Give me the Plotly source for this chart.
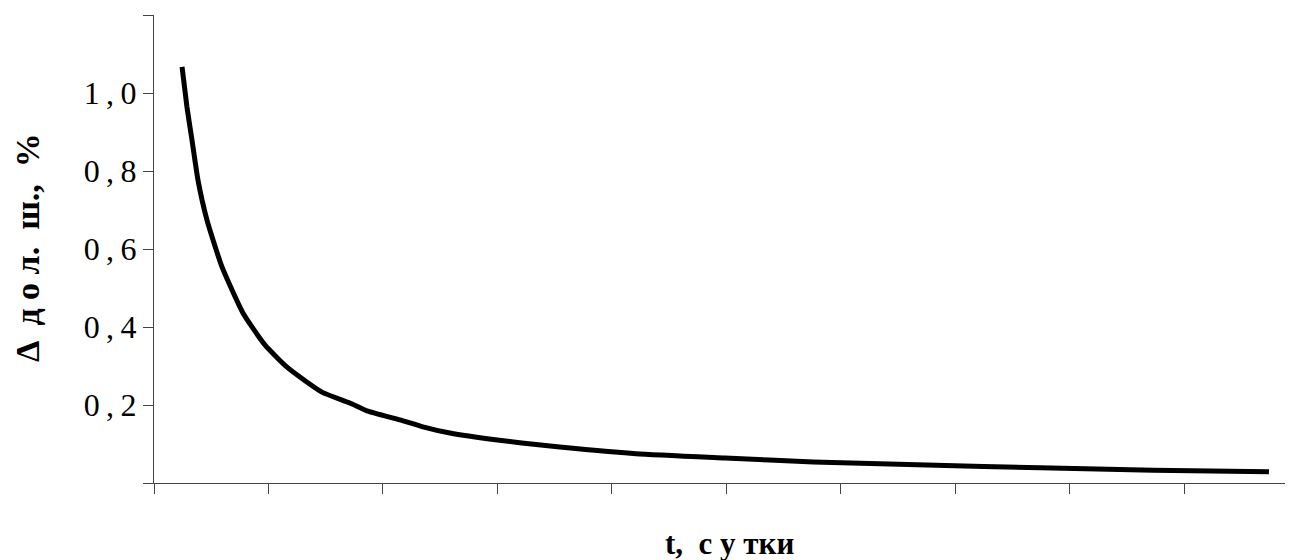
import plotly.graph_objects as go

# Data
t_days = [0.245, 0.288, 0.332, 0.384, 0.463, 0.594, 0.777, 0.969, 1.17, 1.467, 1.712, 1.86,
          2.148, 2.349, 2.585, 3.0, 3.42, 4.21, 4.99, 5.76, 6.75, 7.74, 8.73, 9.74]
delta = [1.067, 0.964, 0.879, 0.777, 0.674, 0.554, 0.436, 0.354, 0.295, 0.233, 0.205, 0.185,
         0.162, 0.144, 0.128, 0.110, 0.096, 0.075, 0.064, 0.054, 0.046, 0.039, 0.033, 0.029]

x_ticks = list(range(0, 10))
y_ticks = [0, 0.2, 0.4, 0.6, 0.8, 1.0, 1.2]
y_tick_labels = ["", "0\u2009,\u20092", "0\u2009,\u20094", "0\u2009,\u20096",
                 "0\u2009,\u20098", "1\u2009,\u20090", ""]
x_title = "t,  с у тки"
y_title = "Δ  д о л.  ш.,  %"

fig = go.Figure()
fig.add_trace(go.Scatter(
    x=t_days, y=delta, mode="lines",
    line=dict(color="black", width=5, shape="spline", smoothing=0.5),
    showlegend=False, hoverinfo="skip",
))

axis_color = "#444444"
serif = "Liberation Serif, Times New Roman, serif"
# The page body has an 8px default margin, so the figure is 8px smaller
fig.update_layout(
    width=1285, height=552,
    paper_bgcolor="white", plot_bgcolor="white",
    margin=dict(l=146, r=0, t=7, b=77, autoexpand=False),
    font=dict(family=serif, color="black"),
    xaxis=dict(
        range=[0, 9.95], tickvals=x_ticks, ticktext=[""] * len(x_ticks),
        ticks="outside", ticklen=10, tickcolor=axis_color, tickwidth=1.2,
        showline=True, linecolor=axis_color, linewidth=1.2,
        showgrid=False, zeroline=False, automargin=False,
    ),
    yaxis=dict(
        range=[0, 1.2], tickvals=y_ticks, ticktext=y_tick_labels,
        ticks="outside", ticklen=10, tickcolor=axis_color, tickwidth=1.2,
        showline=True, linecolor=axis_color, linewidth=1.2,
        showgrid=False, zeroline=False, automargin=False,
        tickfont=dict(size=32, family=serif, color="black"),
    ),
    annotations=[
        dict(text="<b>" + x_title + "</b>", xref="paper", yref="paper",
             x=0.5057, y=0, yshift=-60, xanchor="center", yanchor="middle",
             showarrow=False, font=dict(size=31, family=serif, color="black")),
        dict(text="<b>" + y_title + "</b>", xref="paper", yref="paper",
             x=0, xshift=-127, y=0.502, xanchor="center", yanchor="middle",
             textangle=-90, showarrow=False,
             font=dict(size=34, family=serif, color="black")),
    ],
)

fig.write_html("out.html")
